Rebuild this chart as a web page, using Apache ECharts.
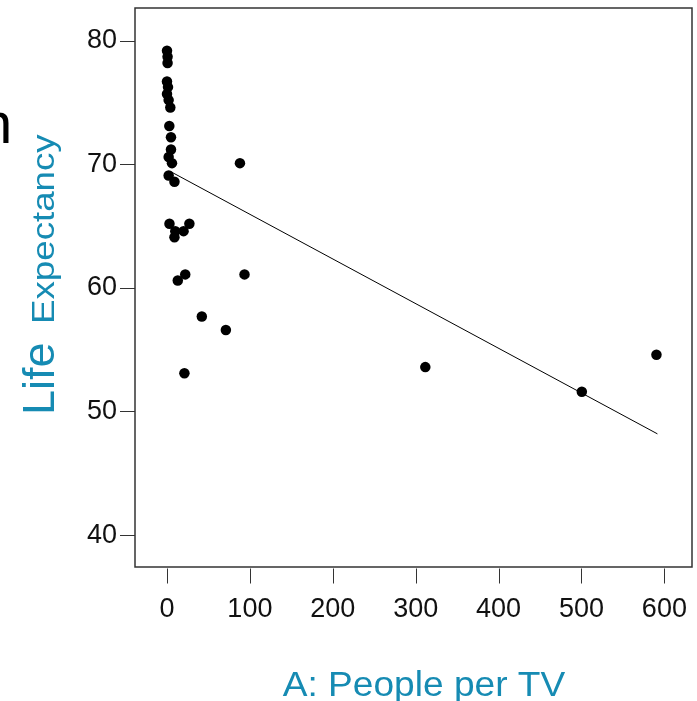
<!DOCTYPE html>
<html>
<head>
<meta charset="utf-8">
<script src="https://cdn.jsdelivr.net/npm/echarts@6/dist/echarts.min.js"></script>
<style>
  html, body { margin: 0; padding: 0; background: #ffffff; }
  #chart { width: 697px; height: 701px; }
</style>
</head>
<body>
<div id="chart"></div>
<script>
// Countries: people per television set vs. life expectancy (years)
const peoplePerTV = [0, 0.7, 0.7, 0, 1.2, 0, 2, 4, 2.8, 4.8, 4.8, 2, 6, 88, 2, 9,
  3, 27, 10, 20, 9, 22, 13, 93.5, 42, 71, 21, 311.6, 500.4, 590.4];
const lifeExpectancy = [79.2, 78.7, 78.2, 76.7, 76.25, 75.7, 75.2, 74.6, 73.1, 72.2, 71.2, 70.6, 70.1, 70.1, 69.1, 68.6,
  65.2, 65.2, 64.6, 64.6, 64.1, 61.1, 60.6, 61.1, 57.7, 56.6, 53.1, 53.6, 51.6, 54.6];

// Least-squares fit line, drawn between its two end points
const fitX = [4.8, 591.6];
const fitY = [69.4, 48.2];

const xTicks = [0, 100, 200, 300, 400, 500, 600];
const yTicks = [40, 50, 60, 70, 80];

const xTitle = 'A: People per TV';
const yTitleWords = ['Life', 'Expectancy'];
const cutTitle = 'n';

const X_MIN = -38.6, X_MAX = 633.3;
const Y_MIN = 37.43, Y_MAX = 82.65;

const teal = '#168bb3';
const points = peoplePerTV.map((x, i) => [x, lifeExpectancy[i]]);
const fitPoints = fitX.map((x, i) => [x, fitY[i]]);
const xTickData = xTicks.map(v => [v, Y_MIN]);

const chart = echarts.init(document.getElementById('chart'), null, { renderer: 'canvas' });

chart.setOption({
  animation: false,
  backgroundColor: '#ffffff',
  grid: {
    left: 135, right: 5, top: 8, bottom: 134,
    show: true, borderColor: '#333333', borderWidth: 1.5, backgroundColor: 'transparent'
  },
  xAxis: {
    type: 'value',
    position: 'bottom',
    min: X_MIN, max: X_MAX,
    axisLine: { show: false, onZero: false },
    splitLine: { show: false },
    axisTick: { show: false },
    axisLabel: { customValues: xTicks, margin: 29, color: '#111111', fontSize: 27, fontFamily: 'Liberation Sans, Arial, sans-serif' }
  },
  yAxis: {
    type: 'value',
    min: Y_MIN, max: Y_MAX,
    axisLine: { show: false, onZero: false },
    splitLine: { show: false },
    axisTick: { show: true, length: 15, customValues: yTicks, lineStyle: { color: '#333333', width: 1 } },
    axisLabel: { customValues: yTicks, margin: 18, color: '#111111', fontSize: 27, fontFamily: 'Liberation Sans, Arial, sans-serif' }
  },
  series: [
    {
      // outward tick marks under the frame, placed through the x scale
      type: 'custom',
      data: xTickData,
      silent: true,
      clip: false,
      renderItem: function (params, api) {
        const p = api.coord([api.value(0), api.value(1)]);
        const x = Math.round(p[0]) + 0.5;
        return {
          type: 'line',
          shape: { x1: x, y1: p[1] + 1.5, x2: x, y2: p[1] + 16.5 },
          style: { stroke: '#333333', lineWidth: 1 }
        };
      },
      z: 1
    },
    {
      type: 'line',
      data: fitPoints,
      symbol: 'none',
      lineStyle: { color: '#000000', width: 1 },
      silent: true,
      z: 2
    },
    {
      type: 'scatter',
      data: points,
      symbol: 'circle',
      symbolSize: 10.5,
      itemStyle: { color: '#000000', opacity: 1 },
      z: 3
    }
  ],
  graphic: [
    {
      type: 'text',
      x: 424, y: 704,
      scaleX: 1.06,
      style: {
        text: xTitle,
        fill: teal,
        font: '35px "Liberation Sans", Arial, sans-serif',
        textAlign: 'center',
        textVerticalAlign: 'bottom'
      }
    },
    {
      type: 'text',
      x: 64, y: 415,
      rotation: Math.PI / 2,
      style: {
        text: yTitleWords[0],
        fill: teal,
        font: '45px "Liberation Sans", Arial, sans-serif',
        textAlign: 'left',
        textVerticalAlign: 'bottom'
      }
    },
    {
      type: 'text',
      x: 61, y: 324,
      rotation: Math.PI / 2,
      scaleX: 1.165,
      style: {
        text: yTitleWords[1],
        fill: teal,
        font: '31.5px "Liberation Sans", Arial, sans-serif',
        textAlign: 'left',
        textVerticalAlign: 'bottom'
      }
    },
    {
      type: 'text',
      x: -20, y: 156,
      style: {
        text: cutTitle,
        fill: '#000000',
        font: '58px "Liberation Sans", Arial, sans-serif',
        textAlign: 'left',
        textVerticalAlign: 'bottom'
      }
    }
  ]
});
</script>
</body>
</html>
